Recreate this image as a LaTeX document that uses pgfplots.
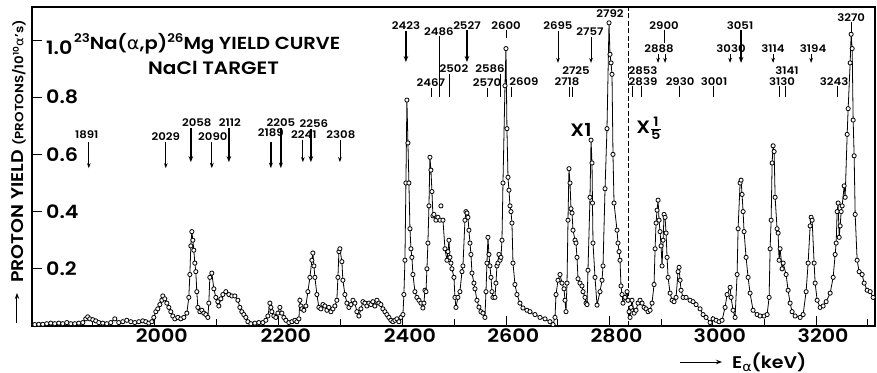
\documentclass[border=0pt]{standalone}
\usepackage{fontspec}
\setmainfont{Poppins}[UprightFont={* SemiBold}, FakeStretch=1.12]
\newfontfamily\greek{DejaVu Sans}[FakeStretch=1.1]
\usepackage{pgfplots}
\pgfplotsset{compat=1.18}
\usetikzlibrary{arrows.meta}

\newcommand\annfont{\fontsize{10.5}{12}\selectfont}
\newcommand\tickfont{\fontsize{18.5}{20}\selectfont}
\newcommand\Lb[3]{\node[font=\annfont, inner sep=0pt] at (axis cs:#1,#2) {#3};}
\newcommand\Ar[4]{\draw[#4] (axis cs:#1,#2) -- (axis cs:#1,#3);}
\tikzset{
  ar/.style={-{Stealth[length=5bp,width=3.6bp]}, line width=0.8bp},
  arm/.style={-{Stealth[length=5.5bp,width=4bp]}, line width=1.3bp},
  art/.style={-{Stealth[length=6bp,width=4.6bp]}, line width=2bp},
  ln/.style={line width=0.7bp},
}

\begin{document}
\begin{tikzpicture}
\path[use as bounding box] (-32bp,-47bp) rectangle (845bp,326bp);
\begin{axis}[
  scale only axis, width=843bp, height=319bp,
  x coord trafo/.code={\pgfmathparse{403+0.51625*(#1-2400)+0.10375*min(#1-2400,0)}},
  xmin=1802, xmax=3314, ymin=0, ymax=1.1154,
  xtick={2000,2200,2400,2600,2800,3000,3200},
  xticklabels={2000,2200,2400,2600,2800,3000,3200},
  minor xtick={1900,2100,2300,2500,2700,2900,3100,3300},
  ytick={0.2,0.4,0.6,0.8},
  yticklabels={0.2,0.4,0.6,0.8},
  extra y ticks={1.0},
  extra y tick labels={1.0},
  extra y tick style={yticklabel style={yshift=-8bp}},
  tick pos=left,
  major tick length=10bp, minor tick length=7bp,
  tick style={line width=0.9bp, black},
  /pgf/number format/assume math mode=true,
  xticklabel style={font=\tickfont, inner sep=0pt, anchor=north, yshift=-3bp, xshift=7bp},
  yticklabel style={font=\tickfont, inner sep=0pt, anchor=west, xshift=14bp},
  axis line style={line width=1.1bp},
  clip=false,
  xlabel={E\raisebox{-3.5bp}{\fontsize{13}{13}\selectfont\greek α}(keV)},
  xlabel style={font=\fontsize{17}{20}\selectfont, at={(axis description cs:0.8304,-0.1317)}, anchor=base west, inner sep=0pt},
  ylabel={{\fontsize{17}{20}\selectfont PROTON YIELD }{\fontsize{12}{14}\selectfont(PROTONS/10\textsuperscript{10}{\greek α}'s)}},
  ylabel style={at={(axis description cs:-0.016,0.1348)}, anchor=west, rotate=0, inner sep=0pt},
]
% left of the dashed line (x1)
\addplot[black, line width=0.8bp, mark=*, mark size=2.1bp, mark options={fill=white, draw=black, line width=0.8bp}] table {
1806.5 0.005
1812.9 0.006
1819.4 0.006
1825.8 0.008
1832.3 0.010
1838.7 0.008
1845.2 0.010
1851.6 0.008
1858.1 0.012
1864.5 0.008
1871.0 0.008
1877.4 0.010
1883.9 0.012
1888.7 0.025
1891.9 0.032
1895.2 0.025
1900.0 0.022
1904.8 0.018
1909.7 0.012
1916.1 0.010
1922.6 0.008
1929.0 0.012
1935.5 0.025
1941.9 0.012
1948.4 0.015
1954.8 0.020
1961.3 0.015
1967.7 0.012
1974.2 0.015
1980.6 0.018
1985.5 0.015
1990.3 0.010
1995.2 0.015
1998.4 0.030
2001.6 0.050
2004.8 0.060
2008.1 0.075
2011.3 0.090
2012.9 0.105
2016.1 0.095
2019.4 0.080
2022.6 0.065
2025.8 0.050
2029.0 0.035
2032.3 0.025
2037.1 0.030
2041.9 0.025
2046.8 0.030
2051.6 0.045
2054.8 0.100
2056.5 0.180
2058.1 0.280
2059.7 0.330
2061.3 0.300
2062.9 0.265
2064.5 0.220
2066.1 0.190
2067.7 0.120
2069.4 0.065
2072.6 0.050
2075.8 0.055
2079.0 0.045
2082.3 0.040
2085.5 0.030
2087.1 0.080
2088.7 0.170
2091.9 0.185
2095.2 0.130
2098.4 0.100
2101.6 0.085
2103.2 0.070
2106.5 0.095
2109.7 0.110
2114.5 0.120
2119.4 0.110
2124.2 0.105
2129.0 0.105
2133.9 0.090
2137.1 0.065
2140.3 0.050
2143.5 0.040
2146.8 0.030
2150.0 0.015
2154.8 0.008
2161.3 0.010
2167.7 0.012
2174.2 0.012
2179.0 0.020
2182.3 0.035
2185.5 0.080
2187.1 0.065
2188.7 0.050
2191.9 0.035
2195.2 0.030
2198.4 0.045
2201.6 0.065
2204.8 0.045
2208.1 0.030
2211.3 0.020
2216.1 0.012
2221.0 0.015
2225.8 0.020
2229.0 0.015
2232.3 0.025
2233.9 0.090
2235.5 0.070
2237.1 0.060
2240.3 0.055
2243.5 0.070
2246.8 0.120
2250.0 0.170
2253.2 0.230
2254.8 0.255
2256.5 0.210
2258.1 0.170
2261.3 0.110
2264.5 0.065
2267.7 0.060
2271.0 0.075
2274.2 0.070
2277.4 0.055
2280.6 0.065
2283.9 0.050
2287.1 0.060
2290.3 0.070
2293.5 0.090
2295.2 0.170
2296.8 0.260
2298.4 0.270
2301.6 0.225
2303.2 0.160
2306.5 0.110
2309.7 0.080
2312.9 0.065
2316.1 0.075
2319.4 0.090
2322.6 0.080
2325.8 0.050
2329.0 0.035
2332.3 0.060
2335.5 0.085
2338.7 0.080
2341.9 0.070
2345.2 0.080
2348.4 0.075
2351.6 0.085
2354.8 0.070
2358.1 0.090
2361.3 0.080
2364.5 0.075
2367.7 0.060
2371.0 0.050
2374.2 0.040
2377.4 0.030
2380.6 0.020
2383.9 0.015
2387.1 0.020
2390.3 0.025
2393.5 0.015
2396.8 0.030
2400.0 0.040
2401.9 0.110
2403.9 0.230
2405.8 0.500
2407.7 0.790
2409.7 0.640
2411.6 0.500
2413.6 0.340
2415.5 0.270
2417.4 0.240
2419.4 0.180
2423.2 0.120
2427.1 0.100
2431.0 0.090
2434.9 0.080
2438.7 0.063
2440.7 0.080
2442.6 0.125
2444.6 0.120
2446.5 0.200
2448.4 0.290
2450.4 0.420
2452.3 0.590
2454.2 0.545
2456.2 0.470
2458.1 0.385
2460.0 0.390
2463.9 0.370
2467.8 0.380
2471.7 0.370
2477.5 0.370
2481.4 0.270
2485.2 0.230
2487.2 0.260
2489.1 0.300
2491.0 0.240
2493.0 0.220
2494.9 0.200
2498.8 0.170
2500.7 0.100
2502.7 0.065
2506.5 0.100
2510.4 0.120
2514.3 0.190
2516.2 0.210
2520.1 0.370
2522.0 0.400
2524.0 0.395
2525.9 0.380
2527.8 0.335
2529.8 0.290
2531.7 0.250
2533.7 0.185
2537.5 0.150
2539.5 0.130
2543.3 0.090
2547.2 0.066
2551.1 0.050
2555.0 0.045
2558.8 0.030
2560.8 0.120
2562.7 0.220
2564.6 0.310
2566.6 0.250
2568.5 0.210
2570.5 0.170
2572.4 0.120
2574.3 0.100
2578.2 0.100
2580.1 0.150
2582.1 0.210
2584.0 0.220
2586.0 0.250
2587.9 0.230
2589.8 0.240
2591.8 0.300
2593.7 0.500
2597.6 0.840
2599.5 0.970
2601.4 0.690
2603.4 0.520
2605.3 0.475
2607.3 0.420
2609.2 0.400
2611.1 0.360
2613.1 0.220
2616.9 0.145
2620.8 0.110
2626.6 0.080
2632.4 0.063
2640.2 0.055
2646.0 0.050
2655.7 0.040
2665.4 0.030
2675.1 0.025
2684.7 0.015
2690.6 0.005
2694.4 0.030
2696.4 0.110
2700.2 0.160
2704.1 0.180
2708.0 0.150
2711.9 0.130
2713.8 0.090
2715.7 0.050
2717.7 0.150
2719.6 0.370
2721.5 0.550
2723.5 0.500
2725.4 0.410
2727.4 0.395
2729.3 0.335
2733.2 0.300
2735.1 0.290
2737.0 0.240
2739.0 0.165
2742.8 0.150
2746.7 0.140
2748.7 0.120
2752.5 0.100
2754.5 0.080
2756.4 0.075
2758.3 0.195
2762.2 0.450
2764.2 0.650
2766.1 0.570
2767.0 0.430
2768.0 0.290
2771.9 0.170
2775.8 0.073
2781.6 0.120
2785.5 0.160
2787.4 0.210
2791.3 0.480
2795.1 0.690
2799.0 1.060
2800.9 0.950
2802.9 0.920
2804.8 0.880
2806.7 0.600
2808.7 0.430
2814.5 0.335
2816.4 0.290
2818.4 0.260
2820.3 0.230
2822.2 0.140
2824.2 0.110
2826.1 0.080
2830.0 0.100
2833.9 0.120
2835.8 0.090
};
% right of the dashed line (x 1/5)
\addplot[black, line width=0.8bp, mark=*, mark size=2.1bp, mark options={fill=white, draw=black, line width=0.8bp}] table {
2837.8 0.050
2839.7 0.030
2841.6 0.065
2843.6 0.090
2847.5 0.045
2851.3 0.055
2855.2 0.080
2859.1 0.090
2863.0 0.080
2866.9 0.065
2870.7 0.060
2874.6 0.050
2878.5 0.055
2882.3 0.080
2886.2 0.145
2888.2 0.270
2890.1 0.360
2892.0 0.405
2894.0 0.440
2895.9 0.370
2897.8 0.330
2899.8 0.280
2901.7 0.210
2903.7 0.300
2905.6 0.390
2907.5 0.380
2909.5 0.325
2911.4 0.240
2913.4 0.170
2917.2 0.115
2921.1 0.090
2925.0 0.085
2928.8 0.100
2932.7 0.190
2934.6 0.205
2936.6 0.160
2938.5 0.125
2942.4 0.100
2948.2 0.100
2955.9 0.090
2961.7 0.085
2967.5 0.075
2975.3 0.060
2981.1 0.040
2986.9 0.030
2994.7 0.012
3000.5 0.025
3006.3 0.020
3012.1 0.015
3017.9 0.020
3023.7 0.065
3027.6 0.110
3033.4 0.135
3035.3 0.100
3039.2 0.055
3043.1 0.030
3047.0 0.180
3048.9 0.340
3052.8 0.500
3054.7 0.510
3056.6 0.460
3058.6 0.400
3060.5 0.330
3064.4 0.240
3068.3 0.170
3072.1 0.115
3077.9 0.055
3085.7 0.040
3091.5 0.035
3099.3 0.035
3105.1 0.040
3109.0 0.100
3110.9 0.270
3112.9 0.370
3114.8 0.570
3116.7 0.630
3118.7 0.610
3120.6 0.450
3124.4 0.340
3126.4 0.325
3128.3 0.230
3130.2 0.270
3134.1 0.200
3136.1 0.220
3141.9 0.180
3145.7 0.125
3149.6 0.080
3153.5 0.050
3159.3 0.035
3169.0 0.030
3174.8 0.040
3180.6 0.120
3184.5 0.220
3188.4 0.350
3190.3 0.380
3192.3 0.370
3196.1 0.220
3198.1 0.150
3202.0 0.090
3207.8 0.065
3213.6 0.070
3219.4 0.085
3227.2 0.115
3233.0 0.170
3236.8 0.250
3238.8 0.290
3240.7 0.400
3242.6 0.430
3244.6 0.310
3246.5 0.350
3248.5 0.400
3250.4 0.420
3254.3 0.490
3256.2 0.450
3260.1 0.670
3262.0 0.760
3265.9 0.920
3267.8 1.020
3269.8 0.970
3271.7 0.720
3273.6 0.595
3275.6 0.390
3279.4 0.230
3283.3 0.190
3289.1 0.180
3293.0 0.150
3298.8 0.125
3304.6 0.120
3310.4 0.100
};
\addplot[only marks, mark=*, mark size=2.1bp, mark options={fill=white, draw=black, line width=0.8bp}] coordinates {(2473.6,0.42)};

% dashed separator
\draw[line width=0.7bp, dash pattern=on 5bp off 2.5bp] (axis cs:2835.8,0) -- (axis cs:2835.8,1.1154);

% resonance markers
\Ar{1893.5}{0.643}{0.552}{ar}      \Lb{1890.3}{0.668}{1891}
\Ar{2017.7}{0.643}{0.552}{ar}      \Lb{2017.7}{0.661}{2029}
\Ar{2058.1}{0.692}{0.573}{art}     \Lb{2067.7}{0.710}{2058}
\Ar{2091.9}{0.643}{0.552}{arm}     \Lb{2093.5}{0.661}{2090}
\Ar{2119.4}{0.692}{0.573}{art}     \Lb{2120.9}{0.710}{2112}
\Ar{2187.1}{0.643}{0.552}{arm}     \Lb{2187.1}{0.675}{2189}
\Ar{2203.2}{0.692}{0.552}{arm}     \Lb{2203.2}{0.710}{2205}
\Ar{2238.7}{0.650}{0.573}{ar}      \Lb{2240.3}{0.668}{2241}
\Ar{2251.6}{0.689}{0.573}{art}     \Lb{2256.5}{0.706}{2256}
\Ar{2298.4}{0.650}{0.573}{ar}      \Lb{2300.0}{0.668}{2308}
\Ar{2405.8}{1.031}{0.923}{art}     \Lb{2405.8}{1.052}{2423}
\Ar{2454.2}{0.832}{0.801}{ln}      \Lb{2454.2}{0.850}{2467}
\Ar{2469.7}{1.014}{0.801}{ln}      \Lb{2469.7}{1.028}{2486}
\Ar{2489.1}{0.881}{0.801}{ln}      \Lb{2498.8}{0.899}{2502}
\Ar{2524.0}{1.035}{0.923}{art}     \Lb{2524.0}{1.052}{2527}
\Ar{2562.7}{0.832}{0.801}{ln}      \Lb{2562.7}{0.850}{2570}
\Ar{2587.9}{0.881}{0.801}{ln}      \Lb{2568.5}{0.899}{2586}
\Ar{2599.5}{1.035}{1.007}{ln}      \Lb{2599.5}{1.052}{2600}
\Ar{2609.2}{0.836}{0.801}{ln}      \Lb{2634.4}{0.853}{2609}
\Ar{2700.2}{1.031}{0.920}{ar}      \Lb{2700.2}{1.052}{2695}
\Ar{2721.5}{0.836}{0.801}{ln}      \Ar{2727.4}{0.836}{0.801}{ln}
\Lb{2717.7}{0.853}{2718}           \Lb{2735.1}{0.892}{2725}
\Ar{2764.2}{1.010}{0.920}{ar}      \Lb{2762.2}{1.028}{2757}
\Lb{2801.0}{1.091}{2792}
\Ar{2843.6}{0.839}{0.801}{ln}      \Ar{2861.0}{0.839}{0.801}{ln}
\Lb{2864.9}{0.853}{2839}           \Lb{2864.9}{0.892}{2853}
\Ar{2894.0}{0.951}{0.920}{ar}      \Ar{2907.5}{0.951}{0.920}{ar}
\Lb{2895.9}{0.969}{2888}
\Ar{2905.6}{1.035}{0.990}{ln}      \Lb{2905.6}{1.049}{2900}
\Ar{2934.6}{0.839}{0.801}{ln}      \Lb{2936.6}{0.853}{2930}
\Ar{3000.5}{0.839}{0.801}{ln}      \Lb{3002.4}{0.853}{3001}
\Ar{3033.4}{0.951}{0.920}{ar}      \Lb{3035.3}{0.969}{3030}
\Ar{3054.7}{1.035}{0.920}{art}     \Lb{3052.8}{1.049}{3051}
\Ar{3116.7}{0.951}{0.920}{ar}      \Lb{3116.7}{0.969}{3114}
\Ar{3128.3}{0.839}{0.801}{ln}      \Ar{3139.9}{0.839}{0.801}{ln}
\Lb{3134.1}{0.853}{3130}           \Lb{3143.8}{0.892}{3141}
\Ar{3190.3}{0.951}{0.920}{ar}      \Lb{3194.2}{0.969}{3194}
\Ar{3240.7}{0.839}{0.801}{ln}      \Lb{3234.9}{0.853}{3243}
\Ar{3267.8}{1.063}{1.024}{ln}      \Lb{3267.8}{1.077}{3270}
\end{axis}

% title
\node[anchor=base west, inner sep=0pt, font=\fontsize{17.5}{20}\selectfont] at (42bp,276bp)
  {\raisebox{7bp}{\fontsize{12}{12}\selectfont 23}Na({\greek α},p)\raisebox{7bp}{\fontsize{12}{12}\selectfont 26}Mg YIELD CURVE};
\node[anchor=base west, inner sep=0pt, font=\fontsize{18}{20}\selectfont] at (116bp,251bp) {NaCl TARGET};
% scale factors
\node[inner sep=0pt, font=\fontsize{18}{20}\selectfont] at (549bp,196bp) {X1};
\node[inner sep=0pt, font=\fontsize{18}{20}\selectfont] at (617bp,198bp)
  {X$\frac{\mbox{\fontsize{13}{13}\selectfont 1}}{\mbox{\fontsize{13}{13}\selectfont 5}}$};
% axis-label arrows
\draw[-{Stealth[length=6bp,width=4.5bp]}, line width=1bp] (648bp,-36bp) -- (690bp,-36bp);
\draw[-{Stealth[length=6bp,width=4.5bp]}, line width=1bp] (-15bp,3bp) -- (-15bp,33bp);
\end{tikzpicture}
\end{document}
